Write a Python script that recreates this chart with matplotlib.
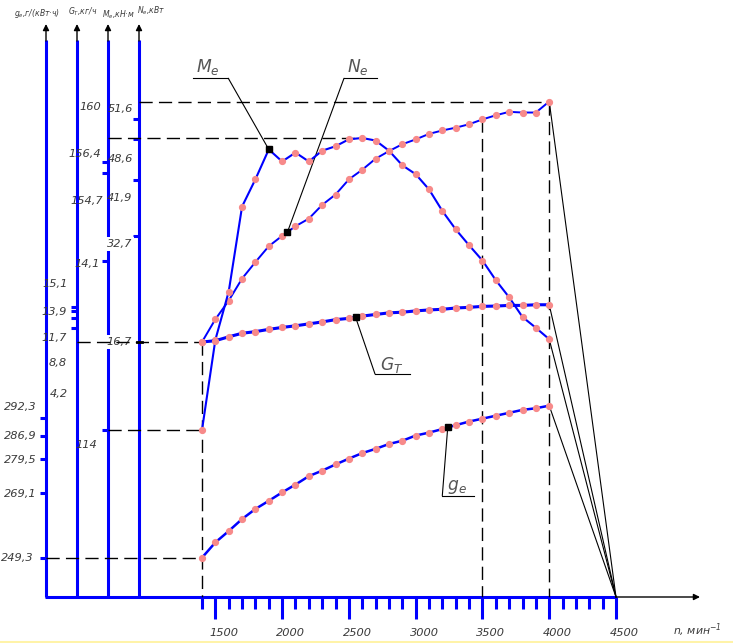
import numpy as np
import matplotlib.pyplot as plt
from matplotlib import font_manager

# engine speed, rpm, and the four characteristics
rpm = [1400, 1500, 1600, 1700, 1800, 1900, 2000, 2100, 2200, 2300, 2400, 2500, 2600, 2700,
       2800, 2900, 3000, 3100, 3200, 3300, 3400, 3500, 3600, 3700, 3800, 3900, 4000]
ne_kw = [16.7, 20.0, 22.7, 25.9, 28.3, 30.6, 32.1, 33.5, 34.6, 36.6, 38.1, 40.3, 41.7, 43.3,
         44.4, 45.4, 46.1, 46.9, 47.4, 47.8, 48.3, 49.0, 49.6, 50.1, 50.0, 50.0, 51.6]
me_nm = [114.0, 128.2, 135.8, 149.2, 153.5, 158.2, 156.3, 157.7, 156.3, 158.0, 158.7, 159.8, 160.0, 159.6,
         158.0, 155.7, 154.3, 151.9, 148.5, 145.6, 143.1, 140.7, 137.6, 134.9, 131.8, 130.1, 128.3]
gt_kgh = [4.2, 4.6, 5.8, 6.9, 7.4, 8.1, 8.7, 9.2, 9.8, 10.4, 11.1, 11.5, 12.2, 12.7,
          13.2, 13.4, 13.8, 14.1, 14.3, 14.7, 14.9, 15.2, 15.3, 15.5, 15.5, 15.7, 15.7]
ge_gkwh = [249.3, 254.0, 257.5, 261.2, 264.3, 266.8, 269.4, 271.8, 274.4, 276.1, 278.0, 279.8, 281.5, 282.8,
           284.3, 285.3, 286.9, 287.8, 288.9, 290.1, 291.2, 292.1, 293.0, 293.9, 294.8, 295.3, 296.1]

x_ticks_major = [1500, 2000, 2500, 3000, 3500, 4000, 4500]
x_ticks_minor = [1400, 1600, 1700, 1800, 1900, 2100, 2200, 2300, 2400, 2600, 2700, 2800, 2900,
                 3100, 3200, 3300, 3400, 3600, 3700, 3800, 3900, 4100, 4200, 4300, 4400]

ge_labels = ["292,3", "286,9", "279,5", "269,1", "249,3"]
gt_labels = ["15,1", "13,9", "11,7", "8,8", "4,2"]
me_labels = ["160", "156,4", "154,7", "14,1", "114"]
ne_labels = ["51,6", "48,6", "41,9", "32,7", "16,7"]

BLUE = "#0000ff"
PINK = "#f78a8a"
TXT = "#3a3a3a"

# a narrow face if one is around, plain DejaVu otherwise
names = {f.name for f in font_manager.fontManager.ttflist}
narrow = "Liberation Sans Narrow" in names
FONT = ["Liberation Sans Narrow", "DejaVu Sans"] if narrow else ["DejaVu Sans"]
SCALE = 1.0 if narrow else 0.78
plt.rcParams["mathtext.fontset"] = "custom"
plt.rcParams["mathtext.rm"] = FONT[0] + ":italic"
plt.rcParams["mathtext.it"] = FONT[0] + ":italic"

W, H = 733, 643
fig = plt.figure(figsize=(W / 100, H / 100), dpi=100)

# sheet axes: pixel-like drawing units
ax = fig.add_axes([0, 0, 1, 1])
ax.set_xlim(0, W)
ax.set_ylim(H, 0)
ax.axis("off")

# rpm axes: 1400 rpm at x=202, 4500 rpm at x=616
k = (4500 - 1400) / (616 - 202)
ax_n = fig.add_axes([0, 0, 1, 1], sharey=ax)
ax_n.set_xlim(1400 - 202 * k, 1400 + (W - 202) * k)
ax_n.axis("off")
ax_n.patch.set_alpha(0)


def sx(px):
    return 1400 + (px - 202) * k


def value_axes(va, ya, vb, yb):
    a = fig.add_axes([0, 0, 1, 1], sharex=ax_n)
    s = (vb - va) / (yb - ya)
    f = lambda px: va + (px - ya) * s
    a.set_ylim(f(H), f(0))
    a.axis("off")
    a.patch.set_alpha(0)
    return a, f


def label(a, x, y, s, size, **kw):
    a.text(x, y, s, va="center", fontsize=size * SCALE, style="italic",
           family=FONT, color=kw.pop("color", TXT), **kw)


ax_ne, ne_at = value_axes(16.7, 342, 51.6, 101.5)
ax_me, me_at = value_axes(114, 430, 160, 138)
ax_gt, gt_at = value_axes(4.2, 342, 15.1, 306.7)
ax_ge, ge_at = value_axes(249.3, 557.7, 292.3, 418)

dash = dict(color="k", lw=1, ls=(0, (9.5, 4.5)))
thin = dict(color="k", lw=0.8)

# dashed construction lines
ax_ne.plot([sx(139), 4000], [51.6, 51.6], **dash)
ax_me.plot([sx(108), 2600], [160, 160], **dash)
ax_gt.plot([sx(77), 1400], [4.2, 4.2], **dash)
ax_me.plot([sx(108), 1400], [114, 114], **dash)
ax_ge.plot([sx(46), 1400], [249.3, 249.3], **dash)
ax_n.plot([1400, 1400], [342, 597], **dash)
ax_n.plot([3500, 3500], [101.5 + (51.6 - ne_kw[21]) * 6.905, 597], **dash)
ax_n.plot([4000, 4000], [101.5, 597], **dash)

# lines from the 4000 rpm ends to 4500 rpm on the axis
for a, f, v in [(ax_ne, ne_at, ne_kw), (ax_me, me_at, me_nm), (ax_gt, gt_at, gt_kgh), (ax_ge, ge_at, ge_gkwh)]:
    a.plot([4000, 4500], [v[-1], f(597)], **thin)

# curves
for a, v, lw in [(ax_ne, ne_kw, 1.4), (ax_me, me_nm, 1.5), (ax_gt, gt_kgh, 2.2), (ax_ge, ge_gkwh, 1.8)]:
    a.plot(rpm, v, color=BLUE, lw=lw, zorder=3)
    a.plot(rpm, v, ls="none", marker="o", ms=4.2, mfc=PINK, mec=PINK, zorder=4)

# vertical axes
for x in [46, 77, 108, 139]:
    ax.plot([x, x], [597, 40], color=BLUE, lw=2.2, solid_capstyle="butt")
    ax.annotate("", xy=(x, 24), xytext=(x, 41),
                arrowprops=dict(arrowstyle="-|>", color="k", lw=1, mutation_scale=9,
                                shrinkA=0, shrinkB=0))

# horizontal axis
ax.plot([44.9, 616], [597, 597], color=BLUE, lw=2.2, solid_capstyle="butt")
ax_n.annotate("", xy=(sx(700), 597), xytext=(4500, 597),
              arrowprops=dict(arrowstyle="-|>", color="k", lw=1, mutation_scale=9,
                              shrinkA=0, shrinkB=0))
for t in x_ticks_major:
    ax_n.plot([t, t], [597, 619], color=BLUE, lw=2.2, solid_capstyle="butt")
    label(ax_n, t - 6 * k, 633, str(t), 10.5, ha="left")
for t in x_ticks_minor:
    ax_n.plot([t, t], [597, 609], color=BLUE, lw=2.2, solid_capstyle="butt")
label(ax, 673, 630, "n, мин$^{-1}$", 10, ha="left")

# ticks on the vertical axes
tick_rows = [(46, [418, 435.7, 459, 492.7, 557.7]),
             (77, [306.7, 310.7, 317.7, 327.7]),
             (108, [161.7, 173, 260.7, 430]),
             (139, [119, 139, 180, 235.7])]
for x, ys in tick_rows:
    for y in ys:
        ax.plot([x - 6, x], [y, y], color=BLUE, lw=2.2, solid_capstyle="butt")
ax.plot([137, 142], [342, 342], color="k", lw=2)

# tick labels, right edges
label_sets = [
    (ge_labels, [(37, 407), (37, 436), (37, 460), (37, 494), (34, 558)], False),
    (gt_labels, [(68, 284), (67, 312), (67, 338), (67, 363), (68, 394)], False),
    (me_labels, [(101, 107.5), (101, 154), (103, 201), (100, 264), (97, 445)], False),
    (ne_labels, [(133, 109), (133, 159), (132, 197.5), (132, 244), (132, 342)], True),
]
for labels, pos, boxed in label_sets:
    for s, (x, y) in zip(labels, pos):
        kw = {}
        if boxed and s in ("32,7", "16,7"):
            kw["bbox"] = dict(fc="white", ec="none", pad=1.2)
        label(ax, x, y, s, 10.5, ha="right", zorder=5, **kw)

# axis titles
for x, y, s in [(14, 14, "g$_e$,г/(кВт·ч)"), (68, 12, "G$_T$,кг/ч"),
                (102, 15, "M$_e$,кН·м"), (137, 11, "N$_e$,кВт")]:
    label(ax, x, y, s, 7.5 if narrow else 7.0, ha="left")

# leaders to curve names
leaders = [
    (ax_me, 1900, np.interp(1900, rpm, me_nm), (228.3, 78.3), (193.3, 78.3), (208, 67), "M$_e$"),
    (ax_ne, 2040, np.interp(2040, rpm, ne_kw), (344, 78.3), (376.7, 78.3), (358, 67), "N$_e$"),
    (ax_gt, 2550, np.interp(2550, rpm, gt_kgh), (375, 374), (410, 374), (392, 365), "G$_T$"),
    (ax_ge, 3240, np.interp(3240, rpm, ge_gkwh), (442.3, 495.7), (474.3, 495.7), (457, 487), "g$_e$"),
]
for a, r, v, elbow, end, lab, s in leaders:
    a.plot([r], [v], marker="s", ms=4.5, color="k", zorder=6)
    a.annotate("", xy=(r, v), xytext=elbow, textcoords=ax.transData,
               arrowprops=dict(arrowstyle="-", color="k", lw=0.8, shrinkA=0, shrinkB=0))
    ax.plot([elbow[0], end[0]], [elbow[1], end[1]], **thin)
    label(ax, lab[0], lab[1], s, 13 / SCALE * 0.95, ha="center", color="#555555")

ax.axhline(641.5, color="#fff3a8", lw=1.5)

fig.savefig("out.png", dpi=100)
